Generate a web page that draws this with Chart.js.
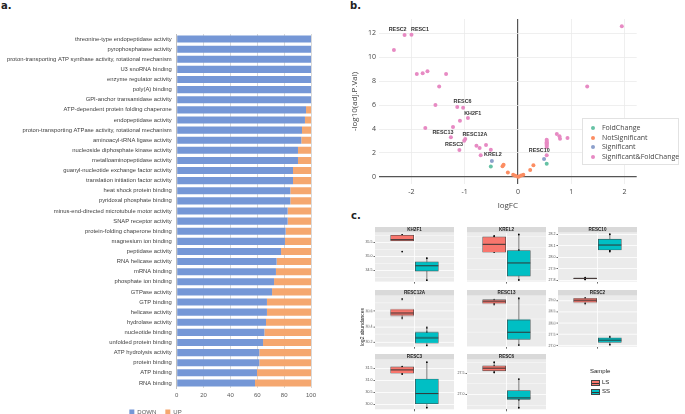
<!DOCTYPE html>
<html lang="en">
<head>
<meta charset="UTF-8">
<title>GO terms, volcano plot and abundances</title>
<script src="https://cdn.jsdelivr.net/npm/chart.js"></script>
<style>
  body { margin:0; width:685px; height:414px; background:#fff; position:relative; overflow:hidden; font-family:"Liberation Sans", Arial, sans-serif; }
  .wrap { position:absolute; }
  .tag { position:absolute; font-weight:bold; font-size:10px; color:#222; font-family:"DejaVu Sans", sans-serif; }
  #legB { position:absolute; left:582px; top:118px; width:95px; height:45px; border:1px solid #e2e2e2; background:#fff; font-family:"Open Sans", sans-serif; font-size:7px; color:#444; }
  #legB div { position:absolute; left:8px; white-space:nowrap; }
  #legB span { display:inline-block; width:4px; height:4px; border-radius:50%; margin-right:7px; vertical-align:middle; }
  #ylabC { position:absolute; left:337px; top:324px; width:50px; text-align:center; font-size:5px; color:#222; transform:rotate(-90deg); }
  #legC { position:absolute; left:588px; top:368px; font-size:6px; color:#222; }
  .key { position:absolute; left:3px; width:7px; height:4px; border:0.6px solid #444; }
  .key i { position:absolute; left:0; right:0; top:1.6px; height:0.7px; background:#333; }
</style>
</head>
<body>
<div class="tag" style="left:1px;top:0px;">a.</div>
<div class="tag" style="left:350px;top:0px;">b.</div>
<div class="tag" style="left:351px;top:210px;">c.</div>

<div class="wrap" style="left:0;top:0;width:330px;height:425px;"><canvas id="chartA"></canvas></div>
<div class="wrap" style="left:330px;top:0;width:355px;height:212px;"><canvas id="chartB"></canvas></div>
<div id="legB">
  <div style="top:4px;"><span style="background:#66c2a5"></span>FoldChange</div>
  <div style="top:14px;"><span style="background:#fc8d62"></span>NotSignificant</div>
  <div style="top:23px;"><span style="background:#8da0cb"></span>Significant</div>
  <div style="top:33px;"><span style="background:#e78ac3"></span>Significant&amp;FoldChange</div>
</div>
<div id="facets"></div>
<div id="ylabC">log2 abundances</div>
<div id="legC">
  <div style="position:absolute;left:2px;top:0;">Sample</div>
  <div class="key" style="top:12px;background:#f8766d"><i></i></div><div style="position:absolute;left:14px;top:10.5px;">LS</div>
  <div class="key" style="top:21px;background:#00bfc4"><i></i></div><div style="position:absolute;left:14px;top:19.5px;">SS</div>
</div>

<script>
// ---- panel a: GO molecular function, % of proteins DOWN / UP
const goTerms = [
  'threonine-type endopeptidase activity', 'pyrophosphatase activity',
  'proton-transporting ATP synthase activity, rotational mechanism', 'U3 snoRNA binding',
  'enzyme regulator activity', 'poly(A) binding', 'GPI-anchor transamidase activity',
  'ATP-dependent protein folding chaperone', 'endopeptidase activity',
  'proton-transporting ATPase activity, rotational mechanism', 'aminoacyl-tRNA ligase activity',
  'nucleoside diphosphate kinase activity', 'metalloaminopeptidase activity',
  'guanyl-nucleotide exchange factor activity', 'translation initiation factor activity',
  'heat shock protein binding', 'pyridoxal phosphate binding',
  'minus-end-directed microtubule motor activity', 'SNAP receptor activity',
  'protein-folding chaperone binding', 'magnesium ion binding', 'peptidase activity',
  'RNA helicase activity', 'mRNA binding', 'phosphate ion binding', 'GTPase activity',
  'GTP binding', 'helicase activity', 'hydrolase activity', 'nucleotide binding',
  'unfolded protein binding', 'ATP hydrolysis activity', 'protein binding', 'ATP binding',
  'RNA binding'
];
const downPct = [100, 100, 100, 100, 100, 100, 100, 96.3, 95.5, 93.3, 92.8, 90.3, 90.3, 86.6, 86.6,
  84.6, 84.6, 82.6, 82.6, 81.1, 80.6, 77.7, 74.4, 73.9, 72.5, 71, 67.2, 67.2, 66.5, 65.3, 64.3,
  61.5, 61.5, 59.8, 58.3];
const upPct = [0, 0, 0, 0, 0, 0, 0, 3.7, 4.5, 6.7, 7.2, 9.7, 9.7, 13.4, 13.4, 15.4, 15.4, 17.4,
  17.4, 18.9, 19.4, 22.3, 25.6, 26.1, 27.5, 29, 32.8, 32.8, 33.5, 34.7, 35.7, 38.5, 38.5, 40.2, 41.7];

// ---- panel b: volcano plot (logFC, -log10 adj.P.Val)
const foldChangeX = [-0.51, 0.54];
const foldChangeY = [0.86, 1.1];
const notSigX = [-0.27, -0.29, -0.19, -0.09, -0.05, 0, 0.02, 0.06, 0.1, 0.23, 0.29];
const notSigY = [1.0, 0.88, 0.36, 0.17, 0.08, 0, 0.03, 0.11, 0.17, 0.58, 0.97];
const sigX = [-0.49, 0.49];
const sigY = [1.33, 1.5];
const sigFcX = [1.95, -2.13, -2.0, -2.33, -1.9, -1.79, -1.7, -1.35, -1.48, 1.3, -1.55, -1.14, -1.03,
  -0.94, -1.09, -1.74, -1.22, -1.26, -0.99, -1.01, -1.1, -0.78, -0.72, -0.6, -0.51, -0.7,
  0.54, 0.54, 0.54, 0.54, 0.54, 0.54, 0.54, 0.54, 0.73, 0.78, 0.79, 0.93];
const sigFcY = [12.6, 11.86, 11.88, 10.6, 8.6, 8.66, 8.83, 8.6, 7.55, 7.55, 6.0, 5.83, 5.78,
  4.92, 4.69, 4.08, 4.17, 3.3, 3.16, 3.02, 2.25, 2.6, 2.41, 2.66, 2.27, 1.8,
  1.8, 2.5, 2.6, 2.7, 2.8, 2.9, 3.0, 3.1, 3.58, 3.39, 3.19, 3.25];
const geneLabels = ['RESC2', 'RESC1', 'RESC6', 'KH2F1', 'RESC13', 'RESC12A', 'RESC3', 'KREL2', 'RESC10'];
const geneLabelX = [-2.26, -1.84, -1.04, -0.85, -1.41, -0.81, -1.2, -0.47, 0.4];
const geneLabelY = [12.3, 12.3, 6.3, 5.28, 3.72, 3.55, 2.67, 1.83, 2.19];

// ---- panel c: boxplots of log2 abundances, [min, q1, median, q3, max]
const facetNames = ['KH2F1', 'KREL2', 'RESC10', 'RESC12A', 'RESC13', 'RESC2', 'RESC3', 'RESC6'];
const lsBox = [
  [35.56, 35.56, 35.60, 35.76, 35.77], [30.209, 30.209, 30.282, 30.351, 30.36],
  [27.805, 27.812, 27.815, 27.818, 27.825], [30.51, 30.543, 30.573, 30.622, 30.622],
  [27.28, 27.317, 27.39, 27.449, 27.46], [28.85, 28.912, 29.0, 29.088, 29.1],
  [31.24, 31.295, 31.43, 31.553, 31.56], [27.49, 27.553, 27.615, 27.668, 27.753]
];
const ssBox = [
  [34.14, 34.47, 34.66, 34.8, 34.96], [29.951, 29.987, 30.109, 30.224, 30.373],
  [28.049, 28.063, 28.106, 28.157, 28.2], [30.159, 30.189, 30.257, 30.329, 30.389],
  [25.79, 26.0, 26.26, 26.72, 27.5], [27.03, 27.15, 27.25, 27.352, 27.4],
  [29.83, 30.03, 30.45, 31.05, 31.75], [26.69, 26.885, 26.92, 27.09, 27.36]
];
const lsPts = [
  [35.77, 35.75, 35.72, 35.58, 35.17], [30.36, 30.35, 30.21], [27.822, 27.815, 27.81, 27.806],
  [30.753, 30.585, 30.56, 30.51], [27.45, 27.41, 27.36, 27.29], [29.1, 29.02, 28.98, 28.86],
  [31.56, 31.52, 31.4, 31.26], [27.753, 27.66, 27.6, 27.52]
];
const ssPts = [
  [34.93, 34.75, 34.55, 34.14], [30.373, 30.227, 30.0, 29.951], [28.2, 28.14, 28.06, 28.049],
  [30.389, 30.33, 30.22, 30.16], [27.5, 26.46, 26.08, 25.79], [27.4, 27.3, 27.22, 27.05],
  [31.75, 30.84, 30.11, 29.87], [27.36, 27.03, 26.88, 26.69]
];
const facetTicks = [
  [34.5, 35.0, 35.5], [30.0, 30.1, 30.2, 30.3], [27.8, 27.9, 28.0, 28.1, 28.2], [30.2, 30.4, 30.6],
  [26.0, 26.5, 27.0, 27.5], [27.0, 27.5, 28.0, 28.5, 29.0], [30.0, 30.5, 31.0, 31.5], [27.0, 27.5]
];
const facetYMin = [34.09, 29.936, 27.787, 30.144, 25.73, 26.96, 29.8, 26.654];
const facetYMax = [35.84, 30.387, 28.211, 30.791, 27.584, 29.19, 31.84, 27.806];

Chart.defaults.animation = false;
Chart.defaults.plugins.tooltip.enabled = false;

// ---------- a
new Chart(document.getElementById('chartA'), {
  type: 'bar',
  data: {
    labels: goTerms,
    datasets: [
      { label: 'DOWN', data: downPct, backgroundColor: '#7597d6', barPercentage: 0.7, categoryPercentage: 1 },
      { label: 'UP', data: upPct, backgroundColor: '#f5a76f', barPercentage: 0.7, categoryPercentage: 1 }
    ]
  },
  options: {
    indexAxis: 'y', responsive: true, maintainAspectRatio: false,
    layout: { padding: { top: 34, right: 19, left: 0, bottom: 0 } },
    scales: {
      x: { stacked: true, min: 0, max: 100,
        ticks: { stepSize: 20, font: { size: 6 }, color: '#595959', padding: 4 },
        grid: { color: '#d9d9d9', drawTicks: false }, border: { display: false },
        afterFit(s) { s.height = 12; } },
      y: { stacked: true,
        ticks: { autoSkip: false, font: { size: 5.85 }, color: '#404040', padding: 5 },
        grid: { display: false, drawTicks: false }, border: { color: '#bfbfbf' },
        afterFit(s) { s.width = 176.7; } }
    },
    plugins: {
      legend: { position: 'bottom', labels: { boxWidth: 5, boxHeight: 5, font: { size: 6 }, color: '#595959', padding: 9 } }
    }
  }
});

// ---------- b
const toPts = (xs, ys) => xs.map((v, i) => ({ x: v, y: ys[i] }));
const geneLabelPlugin = {
  id: 'geneLabels',
  afterDatasetsDraw(chart) {
    const { ctx, scales: { x, y } } = chart;
    ctx.save();
    ctx.font = 'bold 5.4px "Liberation Sans", sans-serif';
    ctx.fillStyle = '#333';
    ctx.textAlign = 'center';
    ctx.textBaseline = 'middle';
    geneLabels.forEach((t, i) => ctx.fillText(t, x.getPixelForValue(geneLabelX[i]), y.getPixelForValue(geneLabelY[i])));
    ctx.restore();
  }
};
new Chart(document.getElementById('chartB'), {
  type: 'scatter',
  data: {
    datasets: [
      { label: 'FoldChange', data: toPts(foldChangeX, foldChangeY), backgroundColor: '#66c2a5' },
      { label: 'NotSignificant', data: toPts(notSigX, notSigY), backgroundColor: '#fc8d62' },
      { label: 'Significant', data: toPts(sigX, sigY), backgroundColor: '#8da0cb' },
      { label: 'Significant&FoldChange', data: toPts(sigFcX, sigFcY), backgroundColor: '#e78ac3' }
    ]
  },
  options: {
    responsive: true, maintainAspectRatio: false,
    elements: { point: { radius: 2, borderWidth: 0 } },
    layout: { padding: { top: 19, right: 48.3, left: 20, bottom: 0 } },
    scales: {
      x: { type: 'linear', min: -2.61, max: 2.23,
        afterBuildTicks(s) { s.ticks = [-2, -1, 0, 1, 2].map(v => ({ value: v })); },
        ticks: { font: { size: 7, family: 'Open Sans' }, color: '#444', padding: 4 },
        grid: { drawTicks: false, color: c => c.tick && c.tick.value === 0 ? '#555' : '#ebebeb', lineWidth: c => c.tick && c.tick.value === 0 ? 1.2 : 0.8 },
        border: { display: false },
        title: { display: true, text: 'logFC', font: { size: 8, family: 'Open Sans' }, color: '#444', padding: 1 },
        afterFit(s) { s.height = 28; } },
      y: { type: 'linear', min: -0.6, max: 13.2,
        afterBuildTicks(s) { s.ticks = [0, 2, 4, 6, 8, 10, 12].map(v => ({ value: v })); },
        ticks: { font: { size: 7, family: 'Open Sans' }, color: '#444', padding: 3 },
        grid: { drawTicks: false, color: c => c.tick && c.tick.value === 0 ? '#555' : '#ebebeb', lineWidth: c => c.tick && c.tick.value === 0 ? 1.2 : 0.8 },
        border: { display: false },
        title: { display: true, text: '-log10(adj.P.Val)', font: { size: 8, family: 'Open Sans' }, color: '#444', padding: 0 },
        afterFit(s) { s.width = 29; } }
    },
    plugins: { legend: { display: false } }
  },
  plugins: [geneLabelPlugin]
});

// ---------- c
const colLeft = [375, 466.7, 558.3];
const rowStrip = [226.7, 290, 353.7];
const rowBottom = [282.3, 346.7, 410];
const LS_X = 0.8125, SS_X = 1.1875;

facetNames.forEach((name, k) => {
  const col = k % 3, row = Math.floor(k / 3);
  const wrap = document.createElement('div');
  wrap.className = 'wrap';
  wrap.style.left = (colLeft[col] - 14) + 'px';
  wrap.style.top = rowStrip[row] + 'px';
  wrap.style.width = (82 + 14 + 1) + 'px';
  wrap.style.height = (rowBottom[row] - rowStrip[row] + 3) + 'px';
  const cv = document.createElement('canvas');
  wrap.appendChild(cv);
  document.getElementById('facets').appendChild(wrap);

  const majors = facetTicks[k];
  const step = majors[1] - majors[0];
  const allTicks = [];
  for (let v = majors[0] - step / 2; v <= majors[majors.length - 1] + step / 2 + 1e-9; v += step / 2) {
    if (v >= facetYMin[k] && v <= facetYMax[k]) allTicks.push(+v.toFixed(4));
  }
  const isMajor = v => majors.some(m => Math.abs(m - v) < 1e-6);
  const boxes = [lsBox[k], ssBox[k]];

  const facetPlugin = {
    id: 'facet' + k,
    beforeDraw(chart) {
      const { ctx, chartArea: a } = chart;
      ctx.save();
      ctx.fillStyle = '#ebebeb';
      ctx.fillRect(a.left, a.top, a.right - a.left, a.bottom - a.top);
      ctx.fillStyle = '#d9d9d9';
      ctx.fillRect(a.left, a.top - 6, a.right - a.left, 5.6);
      ctx.fillStyle = '#1a1a1a';
      ctx.font = 'bold 4.6px "Liberation Sans", sans-serif';
      ctx.textAlign = 'center';
      ctx.textBaseline = 'middle';
      ctx.fillText(name, (a.left + a.right) / 2, a.top - 3.1);
      ctx.restore();
    },
    beforeDatasetsDraw(chart) {
      const { ctx, scales: { x, y } } = chart;
      ctx.save();
      ctx.strokeStyle = '#333';
      ctx.lineWidth = 0.6;
      [LS_X, SS_X].forEach((bx, i) => {
        const px = x.getPixelForValue(bx), b = boxes[i];
        ctx.beginPath();
        ctx.moveTo(px, y.getPixelForValue(b[4])); ctx.lineTo(px, y.getPixelForValue(b[3]));
        ctx.moveTo(px, y.getPixelForValue(b[1])); ctx.lineTo(px, y.getPixelForValue(b[0]));
        ctx.stroke();
      });
      ctx.restore();
    },
    afterDatasetDraw(chart, args) {
      if (args.index !== 0) return;
      const { ctx, scales: { y } } = chart;
      const bars = chart.getDatasetMeta(0).data;
      ctx.save();
      ctx.strokeStyle = '#333';
      ctx.lineWidth = 1;
      bars.forEach((bar, i) => {
        const py = y.getPixelForValue(boxes[i][2]);
        ctx.beginPath();
        ctx.moveTo(bar.x - bar.width / 2, py); ctx.lineTo(bar.x + bar.width / 2, py);
        ctx.stroke();
      });
      ctx.restore();
    }
  };

  new Chart(cv, {
    type: 'bar',
    data: {
      datasets: [
        { type: 'bar', data: [{ x: LS_X, y: [lsBox[k][1], lsBox[k][3]] }, { x: SS_X, y: [ssBox[k][1], ssBox[k][3]] }],
          backgroundColor: ['#f8766d', '#00bfc4'], borderColor: '#444', borderWidth: 0.6, borderSkipped: false,
          barThickness: 23 },
        { type: 'scatter', data: lsPts[k].map(v => ({ x: LS_X, y: v })).concat(ssPts[k].map(v => ({ x: SS_X, y: v }))),
          backgroundColor: '#000', pointRadius: 0.9, borderWidth: 0 }
      ]
    },
    options: {
      responsive: true, maintainAspectRatio: false,
      layout: { padding: { top: 6, left: 2, right: 1, bottom: 0 } },
      scales: {
        x: { type: 'linear', min: 0.4, max: 1.6, offset: false,
          afterBuildTicks(s) { s.ticks = [{ value: 1 }]; },
          ticks: { display: false },
          grid: { offset: false, color: '#fff', lineWidth: 0.8, tickLength: 2, tickColor: '#444' },
          border: { display: false },
          afterFit(s) { s.height = 3; } },
        y: { type: 'linear', min: facetYMin[k], max: facetYMax[k],
          afterBuildTicks(s) { s.ticks = allTicks.map(v => ({ value: v })); },
          ticks: { font: { size: 3.6 }, color: '#4d4d4d', padding: 1, callback: v => isMajor(v) ? v.toFixed(1) : '' },
          grid: { color: '#fff', lineWidth: c => c.tick && isMajor(c.tick.value) ? 0.8 : 0.4,
            tickLength: 1.5, tickColor: c => c.tick && isMajor(c.tick.value) ? '#444' : 'rgba(0,0,0,0)' },
          border: { display: false },
          afterFit(s) { s.width = 12; } }
      },
      plugins: { legend: { display: false } }
    },
    plugins: [facetPlugin]
  });
});
</script>
</body>
</html>
